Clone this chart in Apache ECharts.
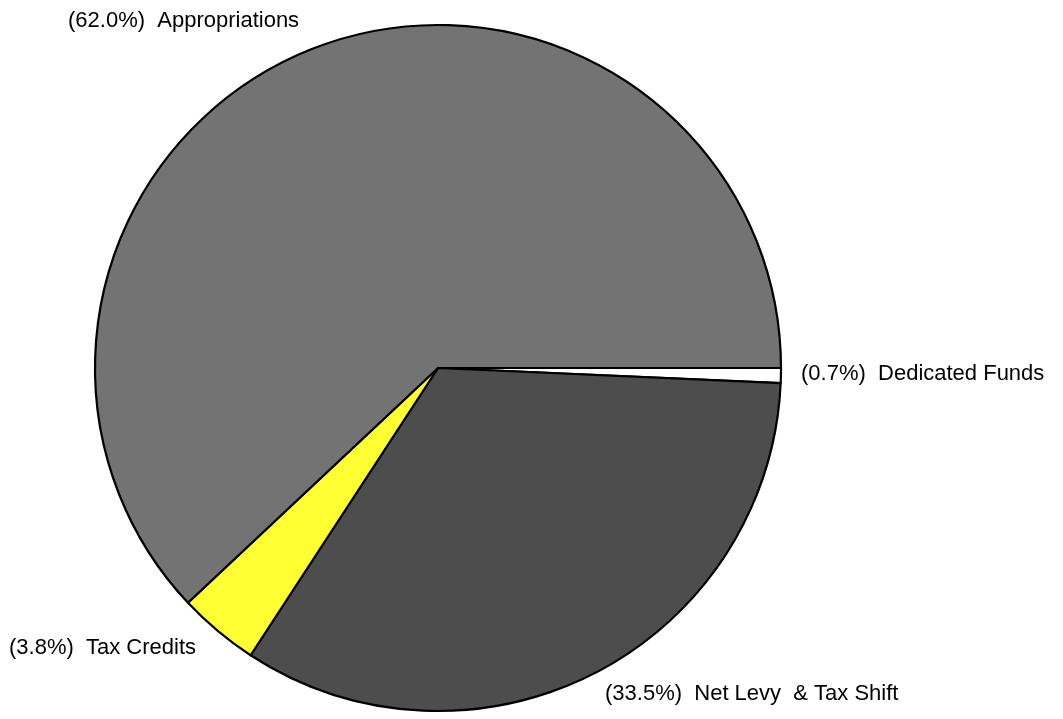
<!DOCTYPE html>
<html>
<head>
<meta charset="utf-8">
<script src="https://cdn.jsdelivr.net/npm/echarts@6/dist/echarts.min.js"></script>
<style>html,body{margin:0;padding:0;background:#fff;}#chart{width:1063px;height:719px;}</style>
</head>
<body>
<div id="chart"></div>
<script>
const categories = ['Dedicated Funds', 'Net Levy & Tax Shift', 'Tax Credits', 'Appropriations'];
const values = [0.7, 33.5, 3.8, 62.0];
const labelText = ['Dedicated Funds', 'Net Levy  & Tax Shift', 'Tax Credits', 'Appropriations'];

const colors = ['#ffffff', '#4d4d4d', '#ffff33', '#737373'];
const labelPos = [[801, 374], [605, 694], [9, 648], [68, 21]];

const chart = echarts.init(document.getElementById('chart'));
chart.setOption({
  animation: false,
  backgroundColor: '#ffffff',
  series: [{
    type: 'pie',
    center: [438, 368],
    radius: 343,
    startAngle: 0,
    clockwise: true,
    avoidLabelOverlap: false,
    data: categories.map((c, i) => ({
      name: c,
      value: values[i],
      itemStyle: { color: colors[i] }
    })),
    itemStyle: { borderColor: '#000', borderWidth: 2.2 },
    emphasis: { disabled: true },
    label: {
      show: true,
      position: 'outside',
      fontFamily: 'Liberation Sans, Arial, sans-serif',
      fontSize: 22,
      color: '#000',
      formatter: p => '(' + p.percent.toFixed(1) + '%)  ' + labelText[p.dataIndex]
    },
    labelLine: { show: false },
    labelLayout: p => ({
      x: labelPos[p.dataIndex][0],
      y: labelPos[p.dataIndex][1],
      align: 'left',
      verticalAlign: 'middle'
    })
  }]
});
</script>
</body>
</html>
